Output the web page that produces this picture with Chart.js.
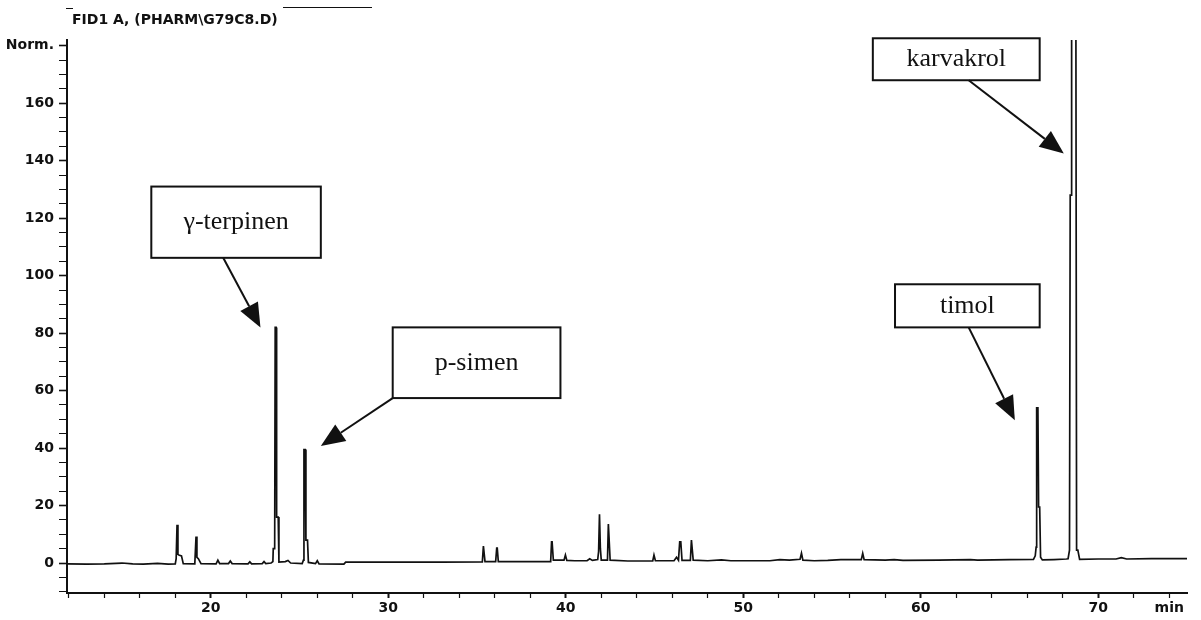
<!DOCTYPE html>
<html>
<head>
<meta charset="utf-8">
<script src="https://cdn.jsdelivr.net/npm/chart.js@4.4.1/dist/chart.umd.min.js"></script>
<style>
  html, body { margin: 0; padding: 0; background: #fff; }
  #wrap { width: 1201px; height: 620px; }
</style>
</head>
<body>
<div id="wrap"><canvas id="chromChart" width="1201" height="620"></canvas></div>
<script>
// retention time (min) and detector response (Norm.)
const rtMin = [
  11.9, 13.0, 14.0, 15.0, 15.6, 16.2, 17.0, 17.6, 18.0,
  18.05, 18.1, 18.15, 18.2, 18.35, 18.45,
  19.1, 19.17, 19.22, 19.3, 19.45,
  20.3, 20.4, 20.5, 21.0, 21.1, 21.2, 22.1, 22.2, 22.3, 22.9, 23.0, 23.1,
  23.4, 23.5, 23.52, 23.6, 23.63, 23.68, 23.71, 23.8, 23.84,
  24.2, 24.35, 24.5, 25.15,
  25.22, 25.25, 25.32, 25.36, 25.45, 25.5,
  25.9, 26.0, 26.1, 27.5, 27.6,
  30.0, 33.0, 35.3, 35.36, 35.39, 35.45,
  36.05, 36.11, 36.14, 36.2,
  38.0, 39.15, 39.2, 39.23, 39.3, 39.9, 39.98, 40.06,
  40.5, 41.2, 41.35, 41.5, 41.8, 41.85, 41.9, 41.95, 42.0,
  42.35, 42.4, 42.43, 42.5, 43.5, 44.9, 44.97, 45.05,
  46.1, 46.24, 46.35, 46.42, 46.48, 46.55,
  47.02, 47.08, 47.11, 47.18, 48.0, 48.77, 49.3,
  51.5, 52.06, 52.6, 53.2, 53.28, 53.36, 54.0, 54.76, 55.5,
  56.65, 56.73, 56.81, 58.0, 58.5, 59.0, 61.0, 62.8, 63.2, 65.0,
  66.35, 66.45, 66.5, 66.53, 66.6, 66.64, 66.7, 66.75, 66.85,
  67.5, 68.2, 68.3, 68.38, 68.42, 68.47, 68.5, 68.74, 68.78, 68.85, 68.95,
  70.0, 71.0, 71.3, 71.6, 73.0, 75.0
];
const signalNorm = [
  -0.3, -0.4, -0.3, 0.0, -0.3, -0.4, -0.1, -0.4, -0.3,
  1.5, 13.3, 3.0, 2.8, 2.5, -0.2,
  -0.3, 9.2, 2.0, 1.5, -0.2,
  -0.3, 1.0, -0.2, -0.2, 0.7, -0.2, -0.3, 0.4, -0.3, -0.2, 0.5, -0.2,
  0.0, 0.5, 5.0, 5.0, 82.0, 82.0, 16.0, 16.0, 0.3,
  0.5, 0.9, 0.0, -0.2,
  1.0, 39.5, 39.5, 8.0, 8.0, 0.2,
  -0.2, 0.8, -0.3, -0.4, 0.3,
  0.3, 0.3, 0.4, 5.9, 5.9, 0.5,
  0.5, 5.2, 5.2, 0.5,
  0.5, 0.5, 7.4, 7.4, 1.0, 1.0, 2.8, 0.9,
  0.8, 0.8, 1.5, 0.9, 1.2, 4.0, 17.0, 5.0, 1.0,
  1.0, 13.6, 13.6, 1.0, 0.7, 0.7, 2.8, 0.8,
  0.8, 2.0, 1.0, 7.4, 7.4, 0.9,
  0.9, 8.0, 8.0, 1.0, 0.8, 1.1, 0.8,
  0.8, 1.2, 1.0, 1.3, 3.4, 1.0, 0.8, 0.9, 1.2,
  1.2, 3.4, 1.2, 1.0, 1.2, 0.9, 1.0, 1.2, 1.0, 1.2,
  1.3, 2.5, 5.5, 54.0, 54.0, 19.5, 19.5, 2.0, 1.1,
  1.2, 1.4, 1.5, 4.5, 128.0, 128.0, 190.0, 190.0, 4.5, 4.5, 1.3,
  1.4, 1.4, 1.9, 1.4, 1.5, 1.5
];

const xTickValues = [12, 14, 16, 18, 20, 22, 24, 26, 28, 30, 32, 34, 36, 38, 40, 42, 44, 46, 48, 50,
  52, 54, 56, 58, 60, 62, 64, 66, 68, 70, 72, 74];
const xTickLabels = { 20: '20', 30: '30', 40: '40', 50: '50', 60: '60', 70: '70', 74: 'min' };
const yTickValues = [-10, -5, 0, 5, 10, 15, 20, 25, 30, 35, 40, 45, 50, 55, 60, 65, 70, 75, 80, 85,
  90, 95, 100, 105, 110, 115, 120, 125, 130, 135, 140, 145, 150, 155, 160, 165, 170, 175, 180];
const yTickLabels = { 0: '0', 20: '20', 40: '40', 60: '60', 80: '80', 100: '100', 120: '120',
  140: '140', 160: '160', 180: 'Norm.' };

const title = 'FID1 A, (PHARM\\G79C8.D)';

// compound labels: box corners and arrow start / tip, in (min, Norm.)
const calloutText = ['γ-terpinen', 'p-simen', 'timol', 'karvakrol'];
const calloutBox = [
  [16.65, 131.0, 26.2, 106.2],
  [30.25, 82.0, 39.7, 57.4],
  [58.55, 97.0, 66.7, 82.0],
  [57.3, 182.6, 66.7, 168.0]
];
const calloutArrow = [
  [20.7, 106.2, 22.8, 82.0],
  [30.25, 57.4, 26.2, 40.7],
  [62.7, 82.0, 65.3, 49.7],
  [62.7, 168.0, 68.06, 142.5]
];

const INK = '#111';
const TICK_FONT = { family: 'DejaVu Sans', size: 14, weight: 'bold' };

const calloutPlugin = {
  id: 'callouts',
  afterDraw(chart) {
    const ctx = chart.ctx;
    const xs = chart.scales.x, ys = chart.scales.y;
    ctx.save();
    // header
    ctx.fillStyle = INK;
    ctx.font = 'bold 14px "DejaVu Sans"';
    ctx.textBaseline = 'middle';
    ctx.textAlign = 'left';
    ctx.fillText(title, 72, 20);
    ctx.strokeStyle = INK;
    ctx.lineWidth = 1;
    ctx.beginPath();
    ctx.moveTo(283, 7.5); ctx.lineTo(372, 7.5);
    ctx.moveTo(66, 8.5); ctx.lineTo(73, 8.5);
    ctx.stroke();

    calloutText.forEach((txt, i) => {
      const b = calloutBox[i];
      const x1 = xs.getPixelForValue(b[0]), y1 = ys.getPixelForValue(b[1]);
      const x2 = xs.getPixelForValue(b[2]), y2 = ys.getPixelForValue(b[3]);
      ctx.fillStyle = '#fff';
      ctx.fillRect(x1, y1, x2 - x1, y2 - y1);
      ctx.strokeStyle = INK;
      ctx.lineWidth = 2;
      ctx.strokeRect(x1, y1, x2 - x1, y2 - y1);
      ctx.fillStyle = INK;
      ctx.font = '26px "Liberation Serif"';
      ctx.textAlign = 'center';
      ctx.textBaseline = 'middle';
      ctx.fillText(txt, (x1 + x2) / 2, (y1 + y2) / 2);

      const a = calloutArrow[i];
      const ax = xs.getPixelForValue(a[0]), ay = ys.getPixelForValue(a[1]);
      const tx = xs.getPixelForValue(a[2]), ty = ys.getPixelForValue(a[3]);
      const ang = Math.atan2(ty - ay, tx - ax);
      const headLen = 24, headHalf = 10;
      const bx = tx - headLen * Math.cos(ang), by = ty - headLen * Math.sin(ang);
      ctx.lineWidth = 2;
      ctx.beginPath();
      ctx.moveTo(ax, ay);
      ctx.lineTo(bx, by);
      ctx.stroke();
      ctx.beginPath();
      ctx.moveTo(tx, ty);
      ctx.lineTo(bx + headHalf * Math.sin(ang), by - headHalf * Math.cos(ang));
      ctx.lineTo(bx - headHalf * Math.sin(ang), by + headHalf * Math.cos(ang));
      ctx.closePath();
      ctx.fill();
    });
    ctx.restore();
  }
};

const chrom = new Chart(document.getElementById('chromChart').getContext('2d'), {
  type: 'line',
  data: {
    datasets: [{
      data: rtMin.map((t, i) => ({ x: t, y: signalNorm[i] })),
      borderColor: INK,
      borderWidth: 1.7,
      pointRadius: 0,
      tension: 0,
      fill: false
    }]
  },
  options: {
    responsive: false,
    animation: false,
    layout: { padding: { top: 40, right: 14, left: 0, bottom: 0 } },
    plugins: { legend: { display: false }, tooltip: { enabled: false } },
    scales: {
      x: {
        type: 'linear',
        min: 11.9,
        max: 75,
        afterBuildTicks: s => { s.ticks = xTickValues.map(v => ({ value: v })); },
        afterFit: s => { s.height = 27; },
        border: { color: INK, width: 2 },
        grid: {
          drawOnChartArea: false,
          tickLength: 5,
          tickColor: INK,
          tickWidth: c => (xTickLabels[c.tick && c.tick.value] && c.tick.value !== 74) ? 2 : 1.2
        },
        ticks: {
          autoSkip: false,
          maxRotation: 0,
          padding: 2,
          color: INK,
          font: TICK_FONT,
          callback: v => xTickLabels[v] || ''
        }
      },
      y: {
        min: -10.43,
        max: 182,
        afterBuildTicks: s => { s.ticks = yTickValues.map(v => ({ value: v })); },
        afterFit: s => { s.width = 67; },
        border: { color: INK, width: 2 },
        grid: {
          drawOnChartArea: false,
          tickLength: 8,
          tickColor: INK,
          tickWidth: c => yTickLabels[c.tick && c.tick.value] ? 1.6 : 1
        },
        ticks: {
          autoSkip: false,
          padding: 5,
          color: INK,
          font: TICK_FONT,
          callback: v => yTickLabels[v] || ''
        }
      }
    }
  },
  plugins: [calloutPlugin]
});
</script>
</body>
</html>
